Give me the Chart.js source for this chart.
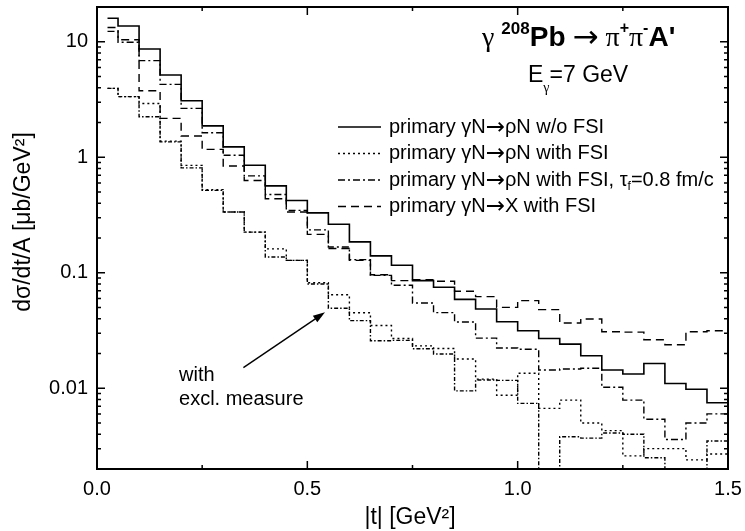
<!DOCTYPE html>
<html>
<head>
<meta charset="utf-8">
<script src="https://cdn.jsdelivr.net/npm/chart.js@4.4.0/dist/chart.umd.min.js"></script>
<style>
  html, body { margin: 0; padding: 0; background: #fff; }
  #wrap { width: 745px; height: 531px; }
</style>
</head>
<body>
<div id="wrap"><canvas id="myChart"></canvas></div>
<script>
// |t| bin lower edges (GeV^2), last bin closes at tMax
const tLow = [0.025, 0.05, 0.10, 0.15, 0.20, 0.25, 0.30, 0.35, 0.40, 0.45,
              0.50, 0.55, 0.60, 0.65, 0.70, 0.75, 0.80, 0.85, 0.90, 0.95,
              1.00, 1.05, 1.10, 1.15, 1.20, 1.25, 1.30, 1.35, 1.40, 1.45];
const tMax = 1.5;

// dsigma/dt/A [mub/GeV^2]
const rhoNoFsi = [16.0, 13.7, 8.66, 5.15, 3.09, 1.87, 1.23, 0.853, 0.565, 0.423,
                  0.330, 0.263, 0.185, 0.140, 0.116, 0.0855, 0.075, 0.0588, 0.0486, 0.0377,
                  0.0315, 0.0270, 0.0241, 0.0191, 0.0144, 0.0133, 0.0164, 0.0110, 0.0098, 0.0075];
const rhoFsi = [3.95, 3.35, 2.92, 1.38, 0.85, 0.525, 0.336, 0.225, 0.161, 0.128,
                0.082, 0.0645, 0.045, 0.035, 0.027, 0.0233, 0.0221, 0.0179, 0.0120, 0.0087,
                0.0135, 0.0067, 0.0079, 0.0050, 0.0043, 0.0026, 0.0030, 0.0030, 0.0024, 0.0027];
const rhoFsiTau = [12.3, 9.9, 6.87, 4.28, 2.65, 1.63, 1.04, 0.69, 0.476, 0.347,
                   0.235, 0.167, 0.130, 0.095, 0.078, 0.0548, 0.0452, 0.0375, 0.0272, 0.0223,
                   0.0218, 0.0144, 0.0147, 0.0149, 0.0102, 0.0079, 0.0054, 0.0036, 0.0050, 0.0060];
const xFsi = [13.3, 10.4, 3.77, 2.17, 1.53, 1.17, 0.84, 0.63, 0.438, 0.336,
              0.215, 0.162, 0.128, 0.096, 0.0855, 0.087, 0.0845, 0.0692, 0.0621, 0.0502,
              0.0574, 0.0480, 0.0367, 0.0398, 0.0309, 0.0306, 0.0263, 0.0238, 0.0309, 0.0315];
const rhoFsiExcl = [3.95, 3.35, 2.24, 1.36, 0.81, 0.517, 0.336, 0.225, 0.137, 0.128,
                    0.080, 0.0493, 0.0385, 0.0258, 0.026, 0.022, 0.0198, 0.0095, 0.0118, 0.0117,
                    0.0074, 0.0010, 0.0038, 0.0037, 0.0041, 0.0040, 0.0025, 0.0019, 0.0019, 0.0035];

// axes
const xMajor = [0, 0.5, 1.0, 1.5];
const xMinor = [0.25, 0.75, 1.25];
const yMajor = [0.01, 0.1, 1, 10];
const yMinorMult = [2, 3, 4, 5, 6, 7, 8, 9];
const yMin = 0.002, yMax = 20;

// legend text runs: plain, symbol (arrow) and subscript pieces
const legendLabels = [
  [{t: 'primary γN'}, {t: '→', sym: true}, {t: 'ρN w/o FSI'}],
  [{t: 'primary γN'}, {t: '→', sym: true}, {t: 'ρN with FSI'}],
  [{t: 'primary γN'}, {t: '→', sym: true}, {t: 'ρN with FSI, τ'}, {t: 'f', sub: true}, {t: '=0.8 fm/c'}],
  [{t: 'primary γN'}, {t: '→', sym: true}, {t: 'X with FSI'}]
];
const FONT = '"Liberation Sans", Arial, sans-serif';
const SERIF = '"Liberation Serif", "Times New Roman", serif';
const SYM = '"DejaVu Sans", sans-serif';

const styles = [
  {data: rhoNoFsi, dash: [], width: 1.6, legend: 0},
  {data: rhoFsi, dash: [2, 3], width: 1.4, legend: 1},
  {data: rhoFsiTau, dash: [7, 3, 2, 3], width: 1.4, legend: 2},
  {data: xFsi, dash: [8, 5], width: 1.4, legend: 3},
  {data: rhoFsiExcl, dash: [4, 2, 1.5, 2], width: 1.4, legend: -1}
];

function toPoints(vals) {
  const pts = tLow.map((t, i) => ({x: t, y: vals[i]}));
  pts.push({x: tMax, y: vals[vals.length - 1]});
  return pts;
}

function drawRuns(ctx, runs, x, y) {
  runs.forEach(r => {
    ctx.font = r.font;
    ctx.fillText(r.t, x, y + (r.dy || 0));
    x += ctx.measureText(r.t).width;
  });
}

const decorations = {
  id: 'decorations',
  afterDatasetsDraw(chart) {
    const ctx = chart.ctx;
    const a = chart.chartArea;
    const xs = chart.scales.x, ys = chart.scales.y;
    ctx.save();
    ctx.strokeStyle = '#000';
    ctx.fillStyle = '#000';

    // frame
    ctx.lineWidth = 2;
    ctx.strokeRect(a.left, a.top, a.right - a.left, a.bottom - a.top);

    // inward ticks on all four sides
    ctx.lineWidth = 1.5;
    ctx.beginPath();
    const xt = (v, len) => {
      const px = xs.getPixelForValue(v);
      ctx.moveTo(px, a.bottom); ctx.lineTo(px, a.bottom - len);
      ctx.moveTo(px, a.top); ctx.lineTo(px, a.top + len);
    };
    const yt = (v, len) => {
      const py = ys.getPixelForValue(v);
      ctx.moveTo(a.left, py); ctx.lineTo(a.left + len, py);
      ctx.moveTo(a.right, py); ctx.lineTo(a.right - len, py);
    };
    xMajor.forEach(v => xt(v, 8));
    xMinor.forEach(v => xt(v, 4));
    yMajor.forEach(v => yt(v, 8));
    [0.001].concat(yMajor).forEach(d => yMinorMult.forEach(m => {
      const v = d * m;
      if (v > yMin && v < yMax) yt(v, 4);
    }));
    ctx.stroke();

    // axis titles
    ctx.textBaseline = 'middle';
    ctx.textAlign = 'center';
    ctx.font = '23px ' + FONT;
    ctx.fillText('|t| [GeV²]', 410, 518);
    ctx.save();
    ctx.translate(24, 222);
    ctx.rotate(-Math.PI / 2);
    ctx.fillText('dσ/dt/A [μb/GeV²]', 0, 0);
    ctx.restore();

    // reaction title
    ctx.textAlign = 'left';
    ctx.textBaseline = 'alphabetic';
    drawRuns(ctx, [
      {t: 'γ ', font: '28px ' + SERIF},
      {t: '208', font: 'bold 17px ' + FONT, dy: -12},
      {t: 'Pb', font: 'bold 28px ' + FONT},
      {t: ' ', font: '28px ' + SERIF},
      {t: '→', font: '31px ' + SYM, dy: 1},
      {t: ' π', font: '28px ' + SERIF},
      {t: '+', font: 'bold 16px ' + FONT, dy: -13},
      {t: 'π', font: '28px ' + SERIF},
      {t: '-', font: 'bold 16px ' + FONT, dy: -13},
      {t: "A'", font: 'bold 28px ' + FONT}
    ], 482, 46);
    drawRuns(ctx, [
      {t: 'E', font: '23px ' + FONT},
      {t: 'γ', font: '14px ' + SERIF, dy: 10},
      {t: '=7 GeV', font: '23px ' + FONT}
    ], 528, 82);

    // legend
    const rowY = [127, 153.5, 180, 206.5];
    styles.forEach(s => {
      if (s.legend < 0) return;
      const y = rowY[s.legend];
      ctx.lineWidth = s.width;
      ctx.setLineDash(s.dash);
      ctx.beginPath();
      ctx.moveTo(338, y); ctx.lineTo(381, y);
      ctx.stroke();
      ctx.setLineDash([]);
      ctx.textBaseline = 'middle';
      let x = 389;
      legendLabels[s.legend].forEach(r => {
        ctx.font = r.sub ? '12px ' + FONT : (r.sym ? '23px ' + SYM : '20px ' + FONT);
        ctx.fillText(r.t, x, y + (r.sub ? 7 : (r.sym ? 1 : 0)));
        x += ctx.measureText(r.t).width;
      });
    });

    // annotation arrow
    const x0 = xs.getPixelForValue(0.348), y0 = ys.getPixelForValue(0.0151);
    const x1 = xs.getPixelForValue(0.542), y1 = ys.getPixelForValue(0.0455);
    const ang = Math.atan2(y1 - y0, x1 - x0);
    ctx.lineWidth = 1.4;
    ctx.beginPath();
    ctx.moveTo(x0, y0);
    ctx.lineTo(x1 - 9 * Math.cos(ang), y1 - 9 * Math.sin(ang));
    ctx.stroke();
    ctx.beginPath();
    ctx.moveTo(x1, y1);
    ctx.lineTo(x1 - 12 * Math.cos(ang) + 4 * Math.sin(ang), y1 - 12 * Math.sin(ang) - 4 * Math.cos(ang));
    ctx.lineTo(x1 - 12 * Math.cos(ang) - 4 * Math.sin(ang), y1 - 12 * Math.sin(ang) + 4 * Math.cos(ang));
    ctx.closePath();
    ctx.fill();

    ctx.font = '20px ' + FONT;
    ctx.textBaseline = 'middle';
    const tx = xs.getPixelForValue(0.195);
    ctx.fillText('with', tx, ys.getPixelForValue(0.013));
    ctx.fillText('excl. measure', tx, ys.getPixelForValue(0.00804));
    ctx.restore();
  }
};

const data = {
  datasets: styles.map(s => ({
    data: toPoints(s.data),
    borderColor: '#000',
    borderWidth: s.width,
    borderDash: s.dash,
    pointRadius: 0,
    stepped: true,
    fill: false
  }))
};

const noPad = s => { s.paddingLeft = 0; s.paddingRight = 0; s.paddingTop = 0; s.paddingBottom = 0; };

const config = {
  type: 'line',
  data: data,
  options: {
    responsive: true,
    maintainAspectRatio: false,
    animation: false,
    layout: {padding: {top: 7, right: 17, left: 0, bottom: 0}},
    plugins: {legend: {display: false}, tooltip: {enabled: false}},
    scales: {
      x: {
        type: 'linear', min: 0, max: tMax,
        afterBuildTicks: s => { s.ticks = xMajor.map(v => ({value: v})); },
        afterFit: s => { s.height = 62; noPad(s); },
        grid: {display: false, drawTicks: false},
        border: {display: false},
        ticks: {color: '#000', font: {size: 20, family: FONT}, padding: 8,
                maxRotation: 0, autoSkip: false, callback: v => v.toFixed(1)}
      },
      y: {
        type: 'logarithmic', min: yMin, max: yMax,
        afterBuildTicks: s => { s.ticks = yMajor.map(v => ({value: v})); },
        afterFit: s => { s.width = 97; noPad(s); },
        grid: {display: false, drawTicks: false},
        border: {display: false},
        ticks: {color: '#000', font: {size: 20, family: FONT}, padding: 9,
                autoSkip: false, callback: v => String(v)}
      }
    }
  },
  plugins: [decorations]
};

const myChart = new Chart(document.getElementById('myChart'), config);
</script>
</body>
</html>
